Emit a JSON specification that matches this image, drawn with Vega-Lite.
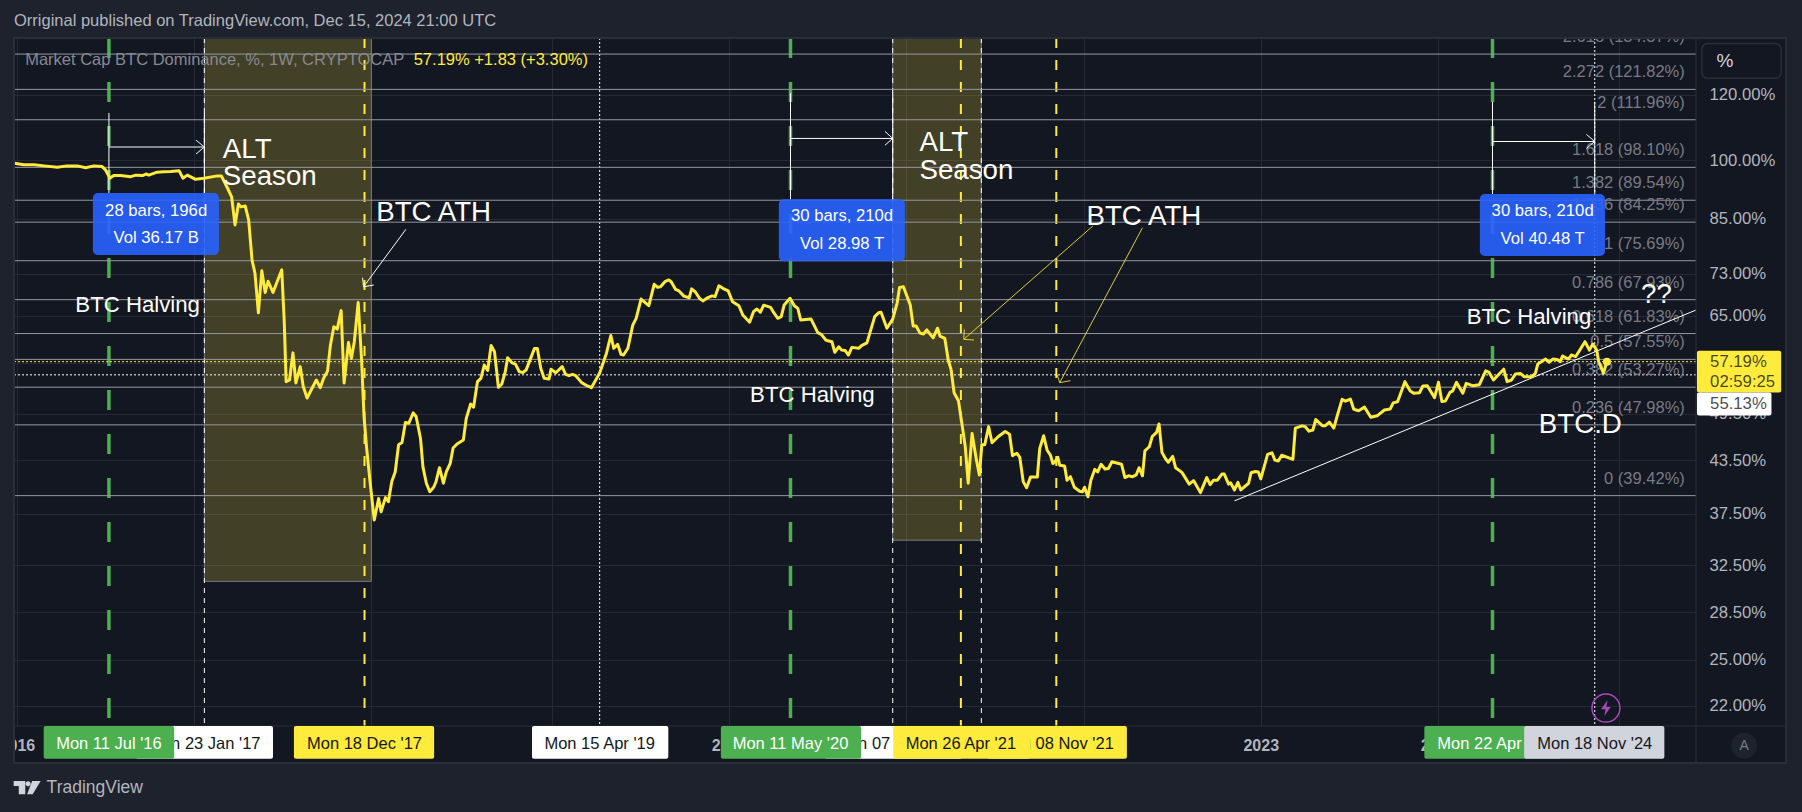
{
  "$schema": "https://vega.github.io/schema/vega-lite/v6.json",
  "width": 1682,
  "height": 688,
  "autosize": "none",
  "padding": {"left": 14, "top": 38, "right": 106, "bottom": 86},
  "background": "#131722",
  "config": {"font": "Liberation Sans", "view": {"stroke": null}},
  "datasets": {
    "dominance": [
      {"date":"2015-12-30","pct":99.2},{"date":"2016-01-18","pct":98.8},{"date":"2016-02-08","pct":98.8},{"date":"2016-02-29","pct":98.5},{"date":"2016-03-27","pct":98.1},{"date":"2016-04-16","pct":98.5},{"date":"2016-05-07","pct":98.5},{"date":"2016-05-24","pct":98},{"date":"2016-06-10","pct":98.5},{"date":"2016-06-27","pct":98.3},{"date":"2016-07-04","pct":97.4},{"date":"2016-07-13","pct":95.2},{"date":"2016-07-21","pct":95.9},{"date":"2016-08-04","pct":95.9},{"date":"2016-08-25","pct":95.6},{"date":"2016-09-04","pct":96},{"date":"2016-09-18","pct":95.9},{"date":"2016-09-25","pct":96.3},{"date":"2016-10-01","pct":96},{"date":"2016-10-18","pct":96.8},{"date":"2016-11-01","pct":96.9},{"date":"2016-11-15","pct":97},{"date":"2016-12-02","pct":97.2},{"date":"2016-12-10","pct":95.2},{"date":"2016-12-19","pct":96},
      {"date":"2017-01-05","pct":94.9},{"date":"2017-01-22","pct":95.2},{"date":"2017-02-19","pct":95.8},{"date":"2017-02-27","pct":95.8},{"date":"2017-03-12","pct":92.5},{"date":"2017-03-20","pct":90.4},{"date":"2017-03-27","pct":83.6},{"date":"2017-04-03","pct":88.6},{"date":"2017-04-08","pct":87.9},{"date":"2017-04-17","pct":88.1},{"date":"2017-04-24","pct":84.8},{"date":"2017-05-01","pct":75.8},{"date":"2017-05-07","pct":73.1},{"date":"2017-05-14","pct":65.5},{"date":"2017-05-21","pct":73.6},{"date":"2017-05-28","pct":69.3},{"date":"2017-06-03","pct":71.5},{"date":"2017-06-13","pct":69.3},{"date":"2017-07-01","pct":73.8},{"date":"2017-07-06","pct":64.2},{"date":"2017-07-10","pct":54.1},{"date":"2017-07-17","pct":54.35},{"date":"2017-07-24","pct":58.6},{"date":"2017-07-30","pct":53.9},{"date":"2017-08-08","pct":56.4},{"date":"2017-08-14","pct":53.4},{"date":"2017-08-22","pct":51.7},{"date":"2017-09-10","pct":54.35},{"date":"2017-09-18","pct":53.2},{"date":"2017-09-25","pct":54.6},{"date":"2017-10-03","pct":55.7},{"date":"2017-10-09","pct":59.9},{"date":"2017-10-16","pct":63},{"date":"2017-10-23","pct":62.6},{"date":"2017-10-31","pct":65.9},{"date":"2017-11-06","pct":53.9},{"date":"2017-11-15","pct":60.3},{"date":"2017-11-21","pct":57.7},{"date":"2017-11-27","pct":60.4},{"date":"2017-12-05","pct":67.4},{"date":"2017-12-12","pct":57.45},{"date":"2017-12-17","pct":49.1},{"date":"2017-12-22","pct":45.2},{"date":"2017-12-29","pct":41.17},
      {"date":"2018-01-07","pct":36.84},{"date":"2018-01-16","pct":39.1},{"date":"2018-01-21","pct":37.7},{"date":"2018-01-30","pct":39.2},{"date":"2018-02-05","pct":38.76},{"date":"2018-02-12","pct":41},{"date":"2018-02-19","pct":42.1},{"date":"2018-02-26","pct":45.4},{"date":"2018-03-05","pct":45.7},{"date":"2018-03-12","pct":48.3},{"date":"2018-03-19","pct":48.2},{"date":"2018-03-28","pct":49.6},{"date":"2018-04-03","pct":49.1},{"date":"2018-04-12","pct":46.2},{"date":"2018-04-17","pct":42.7},{"date":"2018-04-24","pct":40.8},{"date":"2018-05-01","pct":39.85},{"date":"2018-05-09","pct":40.35},{"date":"2018-05-14","pct":41},{"date":"2018-05-21","pct":42.6},{"date":"2018-05-29","pct":40.8},{"date":"2018-06-04","pct":42.1},{"date":"2018-06-12","pct":43.1},{"date":"2018-06-18","pct":45},{"date":"2018-06-26","pct":45.5},{"date":"2018-07-09","pct":46},{"date":"2018-07-15","pct":48.85},{"date":"2018-07-24","pct":50.85},{"date":"2018-07-30","pct":50.4},{"date":"2018-08-07","pct":54.1},{"date":"2018-08-14","pct":54.6},{"date":"2018-08-21","pct":56.65},{"date":"2018-08-28","pct":55.8},{"date":"2018-09-04","pct":59.8},{"date":"2018-09-11","pct":58.8},{"date":"2018-09-19","pct":53.25},{"date":"2018-09-26","pct":53.75},{"date":"2018-10-03","pct":55.6},{"date":"2018-10-08","pct":57.8},{"date":"2018-10-17","pct":57},{"date":"2018-10-24","pct":56.8},{"date":"2018-11-01","pct":55.6},{"date":"2018-11-09","pct":55.5},{"date":"2018-11-15","pct":55.9},{"date":"2018-12-02","pct":59.3},{"date":"2018-12-08","pct":59.3},{"date":"2018-12-15","pct":56.15},{"date":"2018-12-22","pct":54.6},
      {"date":"2019-01-01","pct":54.5},{"date":"2019-01-05","pct":56},{"date":"2019-01-15","pct":55.45},{"date":"2019-01-28","pct":56.4},{"date":"2019-02-04","pct":55.2},{"date":"2019-02-11","pct":55},{"date":"2019-02-18","pct":55.2},{"date":"2019-02-25","pct":55},{"date":"2019-03-09","pct":53.95},{"date":"2019-03-21","pct":53.45},{"date":"2019-03-29","pct":53.2},{"date":"2019-04-15","pct":55.4},{"date":"2019-04-29","pct":58.55},{"date":"2019-05-08","pct":61.5},{"date":"2019-05-14","pct":59.35},{"date":"2019-05-22","pct":60},{"date":"2019-05-29","pct":58.35},{"date":"2019-06-03","pct":58.25},{"date":"2019-06-12","pct":59.35},{"date":"2019-06-22","pct":63.3},{"date":"2019-06-29","pct":64.5},{"date":"2019-07-09","pct":68.05},{"date":"2019-07-25","pct":66.8},{"date":"2019-08-05","pct":70.9},{"date":"2019-08-12","pct":70.3},{"date":"2019-08-18","pct":70.4},{"date":"2019-08-27","pct":71.4},{"date":"2019-09-04","pct":71.75},{"date":"2019-09-09","pct":71.4},{"date":"2019-09-18","pct":69.9},{"date":"2019-09-25","pct":69.6},{"date":"2019-10-05","pct":68.6},{"date":"2019-10-16","pct":68.3},{"date":"2019-10-21","pct":70},{"date":"2019-10-29","pct":69.35},{"date":"2019-11-06","pct":68.2},{"date":"2019-11-13","pct":67.7},{"date":"2019-11-21","pct":68.2},{"date":"2019-12-02","pct":68.65},{"date":"2019-12-08","pct":68.5},{"date":"2019-12-16","pct":70.6},{"date":"2019-12-24","pct":70.1},
      {"date":"2020-01-04","pct":69.6},{"date":"2020-01-13","pct":67.55},{"date":"2020-01-26","pct":66.8},{"date":"2020-02-03","pct":65.1},{"date":"2020-02-17","pct":63.8},{"date":"2020-02-25","pct":65.7},{"date":"2020-03-03","pct":66.2},{"date":"2020-03-10","pct":65.6},{"date":"2020-03-17","pct":66.9},{"date":"2020-03-31","pct":66.5},{"date":"2020-04-06","pct":65.6},{"date":"2020-04-15","pct":64.5},{"date":"2020-04-22","pct":64.8},{"date":"2020-04-28","pct":66.95},{"date":"2020-05-10","pct":68.2},{"date":"2020-05-19","pct":66.8},{"date":"2020-05-26","pct":66.3},{"date":"2020-06-01","pct":64.2},{"date":"2020-06-22","pct":64.4},{"date":"2020-07-06","pct":62},{"date":"2020-07-13","pct":61.7},{"date":"2020-07-23","pct":60.7},{"date":"2020-08-04","pct":60.45},{"date":"2020-08-10","pct":58.7},{"date":"2020-08-18","pct":59.6},{"date":"2020-08-24","pct":59.05},{"date":"2020-08-31","pct":59},{"date":"2020-09-07","pct":58.25},{"date":"2020-09-14","pct":59.5},{"date":"2020-09-28","pct":59.35},{"date":"2020-10-04","pct":59.8},{"date":"2020-10-15","pct":60.25},{"date":"2020-10-31","pct":64.8},{"date":"2020-11-08","pct":65.5},{"date":"2020-11-13","pct":65.6},{"date":"2020-11-25","pct":62.75},{"date":"2020-12-07","pct":64.35},{"date":"2020-12-16","pct":67.3},{"date":"2020-12-21","pct":70.25},{"date":"2020-12-29","pct":70.4},
      {"date":"2021-01-12","pct":66.95},{"date":"2021-01-18","pct":63.15},{"date":"2021-01-24","pct":63.15},{"date":"2021-02-01","pct":61.9},{"date":"2021-02-08","pct":61.75},{"date":"2021-02-15","pct":62.45},{"date":"2021-02-28","pct":61.1},{"date":"2021-03-09","pct":62.75},{"date":"2021-03-14","pct":61.4},{"date":"2021-03-24","pct":61},{"date":"2021-03-31","pct":57.45},{"date":"2021-04-06","pct":55.9},{"date":"2021-04-12","pct":52.45},{"date":"2021-04-21","pct":51.3},{"date":"2021-04-29","pct":47.75},{"date":"2021-05-05","pct":45.15},{"date":"2021-05-11","pct":40.8},{"date":"2021-05-19","pct":46.85},{"date":"2021-05-28","pct":43.5},{"date":"2021-06-03","pct":41.75},{"date":"2021-06-08","pct":45.4},{"date":"2021-06-14","pct":45.4},{"date":"2021-06-22","pct":47.75},{"date":"2021-06-29","pct":45.65},{"date":"2021-07-12","pct":46.45},{"date":"2021-07-26","pct":47.1},{"date":"2021-08-04","pct":46.75},{"date":"2021-08-10","pct":44.05},{"date":"2021-08-19","pct":44.35},{"date":"2021-08-25","pct":43.85},{"date":"2021-09-01","pct":41},{"date":"2021-09-08","pct":40.3},{"date":"2021-09-16","pct":41.5},{"date":"2021-09-30","pct":41.5},{"date":"2021-10-05","pct":44.95},{"date":"2021-10-13","pct":46.55},{"date":"2021-10-20","pct":44.75},{"date":"2021-10-27","pct":44.1},{"date":"2021-11-01","pct":43.1},{"date":"2021-11-05","pct":43.3},{"date":"2021-11-11","pct":43.85},{"date":"2021-11-15","pct":42.9},{"date":"2021-11-25","pct":42.8},{"date":"2021-11-30","pct":41.15},{"date":"2021-12-07","pct":41.55},{"date":"2021-12-15","pct":40.35},{"date":"2021-12-26","pct":39.9},
      {"date":"2022-01-01","pct":39.85},{"date":"2022-01-05","pct":40.35},{"date":"2022-01-12","pct":39.3},{"date":"2022-01-18","pct":41.15},{"date":"2022-01-26","pct":42.4},{"date":"2022-02-01","pct":42.1},{"date":"2022-02-08","pct":43},{"date":"2022-02-16","pct":42.45},{"date":"2022-02-23","pct":42.5},{"date":"2022-03-02","pct":43.3},{"date":"2022-03-22","pct":43},{"date":"2022-03-29","pct":41.45},{"date":"2022-04-05","pct":41.65},{"date":"2022-04-14","pct":41.55},{"date":"2022-04-21","pct":41.75},{"date":"2022-04-27","pct":42.6},{"date":"2022-05-04","pct":41.65},{"date":"2022-05-09","pct":44.65},{"date":"2022-05-18","pct":45.15},{"date":"2022-05-24","pct":46.45},{"date":"2022-06-02","pct":47},{"date":"2022-06-07","pct":48.1},{"date":"2022-06-13","pct":44.45},{"date":"2022-06-20","pct":43.7},{"date":"2022-06-26","pct":43.25},{"date":"2022-07-05","pct":43.95},{"date":"2022-07-11","pct":42.6},{"date":"2022-07-24","pct":42.05},{"date":"2022-08-08","pct":40.7},{"date":"2022-08-17","pct":41.1},{"date":"2022-08-31","pct":39.75},{"date":"2022-09-13","pct":41.45},{"date":"2022-09-20","pct":40.65},{"date":"2022-09-27","pct":41.15},{"date":"2022-10-05","pct":41.15},{"date":"2022-10-14","pct":41.85},{"date":"2022-10-19","pct":41.85},{"date":"2022-10-28","pct":40.7},{"date":"2022-11-01","pct":40.85},{"date":"2022-11-09","pct":40.05},{"date":"2022-11-16","pct":40.9},{"date":"2022-11-22","pct":40.05},{"date":"2022-12-08","pct":40.8},{"date":"2022-12-13","pct":42},{"date":"2022-12-22","pct":42.15},{"date":"2022-12-28","pct":42.1},
      {"date":"2023-01-02","pct":41.3},{"date":"2023-01-16","pct":44.2},{"date":"2023-01-25","pct":44.4},{"date":"2023-01-31","pct":43.5},{"date":"2023-02-07","pct":43.4},{"date":"2023-02-14","pct":44.1},{"date":"2023-03-09","pct":43.6},{"date":"2023-03-14","pct":47.55},{"date":"2023-03-28","pct":47.85},{"date":"2023-04-03","pct":47.75},{"date":"2023-04-11","pct":47.15},{"date":"2023-04-19","pct":47.3},{"date":"2023-04-25","pct":48.7},{"date":"2023-05-09","pct":47.85},{"date":"2023-05-14","pct":47.85},{"date":"2023-05-23","pct":48.35},{"date":"2023-06-01","pct":47.55},{"date":"2023-06-08","pct":49.2},{"date":"2023-06-18","pct":51.5},{"date":"2023-06-25","pct":51.25},{"date":"2023-07-05","pct":51.55},{"date":"2023-07-12","pct":50.1},{"date":"2023-07-22","pct":49.9},{"date":"2023-08-03","pct":50.4},{"date":"2023-08-16","pct":49},{"date":"2023-08-29","pct":49.2},{"date":"2023-09-13","pct":50},{"date":"2023-09-25","pct":50.15},{"date":"2023-10-01","pct":51},{"date":"2023-10-10","pct":51.15},{"date":"2023-10-25","pct":54.1},{"date":"2023-11-05","pct":52.7},{"date":"2023-11-12","pct":52.4},{"date":"2023-11-24","pct":52.45},{"date":"2023-12-01","pct":53.45},{"date":"2023-12-10","pct":53.5},{"date":"2023-12-25","pct":51.75},
      {"date":"2024-01-02","pct":54},{"date":"2024-01-09","pct":51.2},{"date":"2024-01-16","pct":51.25},{"date":"2024-01-26","pct":52.55},{"date":"2024-01-31","pct":52.7},{"date":"2024-02-08","pct":54},{"date":"2024-02-21","pct":52.4},{"date":"2024-02-28","pct":53.85},{"date":"2024-03-12","pct":53.5},{"date":"2024-03-26","pct":53.65},{"date":"2024-04-08","pct":55.75},{"date":"2024-04-15","pct":55.5},{"date":"2024-04-24","pct":54.35},{"date":"2024-05-15","pct":56},{"date":"2024-05-22","pct":54.1},{"date":"2024-05-31","pct":54.35},{"date":"2024-06-08","pct":55.25},{"date":"2024-06-18","pct":55.35},{"date":"2024-06-26","pct":54.85},{"date":"2024-07-12","pct":54.85},{"date":"2024-07-19","pct":55.35},{"date":"2024-07-24","pct":56.8},{"date":"2024-08-09","pct":57.6},{"date":"2024-08-16","pct":57.1},{"date":"2024-08-24","pct":57.6},{"date":"2024-09-01","pct":57.55},{"date":"2024-09-08","pct":57.2},{"date":"2024-09-13","pct":58.1},{"date":"2024-09-25","pct":57.6},{"date":"2024-10-01","pct":58.25},{"date":"2024-10-10","pct":58},{"date":"2024-10-29","pct":60.45},{"date":"2024-11-07","pct":59.05},{"date":"2024-11-14","pct":60.05},{"date":"2024-11-22","pct":59.05},{"date":"2024-11-26","pct":57.2},{"date":"2024-12-06","pct":55.4},{"date":"2024-12-13","pct":57.19}
    ],
    "fibs": [
      {"date":"2025-05-22","pct":134.37,"label":"2.618 (134.37%)"},{"date":"2025-05-22","pct":121.82,"label":"2.272 (121.82%)"},{"date":"2025-05-22","pct":111.96,"label":"2 (111.96%)"},{"date":"2025-05-22","pct":98.10,"label":"1.618 (98.10%)"},{"date":"2025-05-22","pct":89.54,"label":"1.382 (89.54%)"},{"date":"2025-05-22","pct":84.25,"label":"1.236 (84.25%)"},{"date":"2025-05-22","pct":75.69,"label":"1 (75.69%)"},{"date":"2025-05-22","pct":67.93,"label":"0.786 (67.93%)"},{"date":"2025-05-22","pct":61.83,"label":"0.618 (61.83%)"},{"date":"2025-05-22","pct":57.55,"label":"0.5 (57.55%)"},{"date":"2025-05-22","pct":53.27,"label":"0.382 (53.27%)"},{"date":"2025-05-22","pct":47.98,"label":"0.236 (47.98%)"},{"date":"2025-05-22","pct":39.42,"label":"0 (39.42%)"}
    ],
    "events": [
      {"date":"2016-07-11","kind":"halving"},{"date":"2020-05-11","kind":"halving"},{"date":"2024-04-22","kind":"halving"},
      {"date":"2017-12-18","kind":"ath"},{"date":"2021-04-26","kind":"ath"},{"date":"2021-11-08","kind":"ath"},
      {"date":"2017-01-23","kind":"alt"},{"date":"2020-12-07","kind":"alt"},{"date":"2021-06-07","kind":"alt"},
      {"date":"2019-04-15","kind":"cursor"},{"date":"2024-11-18","kind":"cursor"}
    ],
    "seasons": [
      {"date":"2017-01-23","date2":"2018-01-01","pct":140.5,"pct2":31.07},
      {"date":"2020-12-07","date2":"2021-06-07","pct":140.5,"pct2":34.83}
    ],
    "measures": [
      {"date":"2016-06-08","date2":"2017-02-22","pct":91.33,"pct2":76.9},
      {"date":"2020-04-17","date2":"2021-01-01","pct":89.8,"pct2":75.6},
      {"date":"2024-03-27","date2":"2024-12-09","pct":91.1,"pct2":76.7}
    ],
    "measureText": [
      {"date":"2016-10-16","pct":86.95,"label":"28 bars, 196d"},{"date":"2016-10-16","pct":80.7,"label":"Vol 36.17 B"},
      {"date":"2020-08-25","pct":85.6,"label":"30 bars, 210d"},{"date":"2020-08-25","pct":79.35,"label":"Vol 28.98 T"},
      {"date":"2024-08-03","pct":86.8,"label":"30 bars, 210d"},{"date":"2024-08-03","pct":80.45,"label":"Vol 40.48 T"}
    ],
    "guides": [
      {"group":"m1a","seq":1,"date":"2016-07-11","pct":114.1},{"group":"m1a","seq":2,"date":"2016-07-11","pct":91.3},
      {"group":"m1b","seq":1,"date":"2017-01-23","pct":114.1},{"group":"m1b","seq":2,"date":"2017-01-23","pct":91.3},
      {"group":"m1c","seq":1,"date":"2016-07-11","pct":103.8},{"group":"m1c","seq":2,"date":"2017-01-23","pct":103.8},
      {"group":"m1d","seq":1,"date":"2017-01-06","pct":105.8},{"group":"m1d","seq":2,"date":"2017-01-23","pct":103.8},{"group":"m1d","seq":3,"date":"2017-01-06","pct":101.8},
      {"group":"m2a","seq":1,"date":"2020-05-11","pct":120.6},{"group":"m2a","seq":2,"date":"2020-05-11","pct":89.8},
      {"group":"m2b","seq":1,"date":"2020-12-07","pct":120.6},{"group":"m2b","seq":2,"date":"2020-12-07","pct":89.8},
      {"group":"m2c","seq":1,"date":"2020-05-11","pct":106.3},{"group":"m2c","seq":2,"date":"2020-12-07","pct":106.3},
      {"group":"m2d","seq":1,"date":"2020-11-21","pct":108.4},{"group":"m2d","seq":2,"date":"2020-12-07","pct":106.3},{"group":"m2d","seq":3,"date":"2020-11-21","pct":104.3},
      {"group":"m3a","seq":1,"date":"2024-04-22","pct":117.7},{"group":"m3a","seq":2,"date":"2024-04-22","pct":91.1},
      {"group":"m3b","seq":1,"date":"2024-11-18","pct":117.7},{"group":"m3b","seq":2,"date":"2024-11-18","pct":91.1},
      {"group":"m3c","seq":1,"date":"2024-04-22","pct":105.4},{"group":"m3c","seq":2,"date":"2024-11-18","pct":105.4},
      {"group":"m3d","seq":1,"date":"2024-11-01","pct":107.5},{"group":"m3d","seq":2,"date":"2024-11-18","pct":105.4},{"group":"m3d","seq":3,"date":"2024-11-01","pct":103.4},
      {"group":"trend","seq":1,"date":"2022-11-09","pct":38.85},{"group":"trend","seq":2,"date":"2025-06-14","pct":66.0},
      {"group":"ath1","seq":1,"date":"2018-03-13","pct":82.6},{"group":"ath1","seq":2,"date":"2017-12-16","pct":70.4},
      {"group":"ath1h","seq":1,"date":"2017-12-14","pct":72.2},{"group":"ath1h","seq":2,"date":"2017-12-16","pct":70.4},{"group":"ath1h","seq":3,"date":"2018-01-06","pct":70.75}
    ],
    "yellowGuides": [
      {"group":"ath2","seq":1,"date":"2022-01-22","pct":83.35},{"group":"ath2","seq":2,"date":"2021-05-02","pct":60.85},
      {"group":"ath2h","seq":1,"date":"2021-05-03","pct":62.55},{"group":"ath2h","seq":2,"date":"2021-05-02","pct":60.85},{"group":"ath2h","seq":3,"date":"2021-05-23","pct":60.73},
      {"group":"ath3","seq":1,"date":"2022-05-04","pct":82.95},{"group":"ath3","seq":2,"date":"2021-11-15","pct":53.95},
      {"group":"ath3h","seq":1,"date":"2021-11-10","pct":55.1},{"group":"ath3h","seq":2,"date":"2021-11-15","pct":53.95},{"group":"ath3h","seq":3,"date":"2021-12-07","pct":54.25}
    ],
    "notes": [
      {"date":"2017-03-02","pct":102.9,"label":"ALT","kind":"big"},{"date":"2017-03-02","pct":95.4,"label":"Season","kind":"big"},
      {"date":"2021-01-31","pct":104.85,"label":"ALT","kind":"big"},{"date":"2021-01-31","pct":97.2,"label":"Season","kind":"big"},
      {"date":"2018-01-11","pct":86.3,"label":"BTC ATH","kind":"big"},{"date":"2022-01-09","pct":85.55,"label":"BTC ATH","kind":"big"},
      {"date":"2025-02-21","pct":68.8,"label":"??","kind":"big"},{"date":"2024-07-26","pct":47.95,"label":"BTC.D","kind":"big"},
      {"date":"2016-05-03","pct":66.9,"label":"BTC Halving","kind":"small"},{"date":"2020-02-18","pct":52.13,"label":"BTC Halving","kind":"small"},{"date":"2024-02-29","pct":64.7,"label":"BTC Halving","kind":"small"}
    ],
    "headerLine": [{"date":"2015-12-29","pct":147.1,"label":"Orriginal published on TradingView.com, Dec 15, 2024 21:00 UTC"}],
    "legendLine": [
      {"date":"2016-01-21","pct":132.1,"label":"Market Cap BTC Dominance, %, 1W, CRYPTOCAP","kind":"name"},
      {"date":"2018-03-29","pct":132.1,"label":"57.19%  +1.83 (+3.30%)","kind":"value"}
    ],
    "margins": [
      {"date":"2015-11-01","date2":"2026-03-01","pct":170,"pct2":140.5},
      {"date":"2015-11-01","date2":"2026-03-01","pct":18.76,"pct2":15},
      {"date":"2015-11-01","date2":"2015-12-29","pct":170,"pct2":15},
      {"date":"2025-12-16","date2":"2026-03-01","pct":170,"pct2":15}
    ],
    "frame": [{"date":"2015-12-29","date2":"2025-12-16","pct":140.5,"pct2":18.76}],
    "frameV": [{"date":"2025-06-14","pct":140.5,"pct2":18.76}],
    "frameH": [{"date":"2015-12-29","date2":"2025-12-16","pct":20.79}],
    "priceTags": [
      {"date":"2025-06-16","date2":"2025-12-06","pct":58.96,"pct2":52.48,"kind":"last"},
      {"date":"2025-06-16","date2":"2025-11-16","pct":52.48,"pct2":49.23,"kind":"prev"}
    ],
    "priceText": [
      {"date":"2025-07-13","pct":57.09,"label":"57.19%"},{"date":"2025-07-13","pct":54.09,"label":"02:59:25"},{"date":"2025-07-13","pct":50.81,"label":"55.13%"}
    ],
    "unitButton": [{"date":"2025-06-26","date2":"2025-12-06","pct":138.4,"pct2":125.6}],
    "unitText": [{"date":"2025-07-26","pct":131.9,"label":"%"}],
    "autoButton": [{"date":"2025-09-21","pct":19.68,"label":"A"}],
    "flash": [{"date":"2024-12-11","pct":21.85}],
    "lastBar": [{"date":"2024-12-13","pct":57.19}],
    "brand": [{"date":"2016-03-05","pct":17.52,"label":"TradingView"}],
    "logo": [{"date":"2016-01-25","pct":17.52}],
    "dateTags": [
      {"date":"2016-09-04","date2":"2017-06-13","mid":"2017-01-23","pct":20.79,"pct2":18.98,"ymid":19.77,"label":"Mon 23 Jan '17","kind":"alt","tier":1},
      {"date":"2018-11-27","date2":"2019-09-03","mid":"2019-04-15","pct":20.79,"pct2":18.98,"ymid":19.77,"label":"Mon 15 Apr '19","kind":"alt","tier":1},
      {"date":"2020-07-21","date2":"2021-04-28","mid":"2020-12-07","pct":20.79,"pct2":18.98,"ymid":19.77,"label":"Mon 07 Dec '20","kind":"alt","tier":1},
      {"date":"2021-06-19","date2":"2022-04-02","mid":"2021-11-08","pct":20.79,"pct2":18.98,"ymid":19.77,"label":"Mon 08 Nov '21","kind":"ath","tier":1},
      {"date":"2016-02-28","date2":"2016-11-22","mid":"2016-07-11","pct":20.79,"pct2":18.98,"ymid":19.77,"label":"Mon 11 Jul '16","kind":"halving","tier":2},
      {"date":"2017-07-26","date2":"2018-05-10","mid":"2017-12-18","pct":20.79,"pct2":18.98,"ymid":19.77,"label":"Mon 18 Dec '17","kind":"ath","tier":2},
      {"date":"2019-12-20","date2":"2020-10-03","mid":"2020-05-11","pct":20.79,"pct2":18.98,"ymid":19.77,"label":"Mon 11 May '20","kind":"halving","tier":2},
      {"date":"2020-12-08","date2":"2021-09-15","mid":"2021-04-26","pct":20.79,"pct2":18.98,"ymid":19.77,"label":"Mon 26 Apr '21","kind":"ath","tier":2},
      {"date":"2023-12-04","date2":"2024-09-10","mid":"2024-04-22","pct":20.79,"pct2":18.98,"ymid":19.77,"label":"Mon 22 Apr '24","kind":"halving","tier":2},
      {"date":"2024-06-26","date2":"2025-04-10","mid":"2024-11-18","pct":20.79,"pct2":18.98,"ymid":19.77,"label":"Mon 18 Nov '24","kind":"now","tier":3}
    ]
  },
  "encoding": {
    "x": {
      "field": "date", "type": "temporal", "title": null,
      "scale": {"type": "utc", "domain": ["2015-12-29", "2025-06-14"], "nice": false},
      "axis": {"values": [1451865600000, 1483315200000, 1514764800000, 1546819200000, 1578268800000, 1609718400000, 1641168000000, 1672617600000, 1704067200000, 1736121600000], "format": "%Y", "grid": true, "gridColor": "#252934", "domain": false, "ticks": false, "labelColor": "#b2b5be", "labelFontSize": 16, "labelFontWeight": "bold", "labelPadding": 11, "labelFlush": false, "labelOverlap": false}
    },
    "y": {
      "field": "pct", "type": "quantitative", "title": null,
      "scale": {"type": "log", "domain": [20.79, 140.5], "nice": false},
      "axis": {"orient": "right", "values": [22, 25, 28.5, 32.5, 37.5, 43.5, 49.5, 57, 65, 73, 85, 100, 120], "labelExpr": "format(datum.value, '.2f') + '%'", "grid": true, "gridColor": "#252934", "domain": false, "ticks": false, "labelColor": "#b2b5be", "labelFontSize": 16.7, "labelPadding": 13, "labelFlush": false, "labelOverlap": false}
    }
  },
  "layer": [
    {"data": {"name": "seasons"}, "mark": {"type": "rect", "fill": "#ffeb3b", "fillOpacity": 0.2, "stroke": "#787b86", "strokeWidth": 1}, "encoding": {"x2": {"field": "date2"}, "y2": {"field": "pct2"}}},
    {"data": {"name": "events"}, "transform": [{"filter": "datum.kind === 'halving'"}], "mark": {"type": "rule", "color": "#4caf50", "strokeWidth": 3.5, "strokeDash": [20, 24]}, "encoding": {"y": null}},
    {"data": {"name": "events"}, "transform": [{"filter": "datum.kind === 'alt'"}], "mark": {"type": "rule", "color": "#ffffff", "strokeWidth": 1, "strokeDash": [5, 5]}, "encoding": {"y": null}},
    {"data": {"name": "events"}, "transform": [{"filter": "datum.kind === 'cursor'"}], "mark": {"type": "rule", "color": "#ffffff", "strokeWidth": 1, "strokeDash": [2, 2]}, "encoding": {"y": null}},
    {"data": {"name": "events"}, "transform": [{"filter": "datum.kind === 'ath'"}], "mark": {"type": "rule", "color": "#ffeb3b", "strokeWidth": 2, "strokeDash": [10, 12]}, "encoding": {"y": null}},
    {"data": {"name": "fibs"}, "mark": {"type": "rule", "color": "#9598a1", "strokeWidth": 1}, "encoding": {"x": null}},
    {"data": {"values": [{"pct": 57.19}]}, "mark": {"type": "rule", "color": "#ffeb3b", "strokeWidth": 1, "strokeDash": [2, 2]}, "encoding": {"x": null}},
    {"data": {"values": [{"pct": 55.13}]}, "mark": {"type": "rule", "color": "#ffffff", "strokeWidth": 1, "strokeDash": [2, 2]}, "encoding": {"x": null}},
    {"data": {"name": "fibs"}, "mark": {"type": "text", "align": "right", "baseline": "middle", "dy": -17, "fontSize": 16.5, "color": "#787b86"}, "encoding": {"text": {"field": "label"}}},
    {"data": {"name": "legendLine"}, "transform": [{"filter": "datum.kind === 'name'"}], "mark": {"type": "text", "align": "left", "baseline": "middle", "fontSize": 16.5, "color": "#868993"}, "encoding": {"text": {"field": "label"}}},
    {"data": {"name": "legendLine"}, "transform": [{"filter": "datum.kind === 'value'"}], "mark": {"type": "text", "align": "left", "baseline": "middle", "fontSize": 16.5, "color": "#ffeb3b"}, "encoding": {"text": {"field": "label"}}},
    {"data": {"name": "guides"}, "mark": {"type": "line", "color": "#ffffff", "strokeWidth": 1}, "encoding": {"detail": {"field": "group"}, "order": {"field": "seq"}}},
    {"data": {"name": "yellowGuides"}, "mark": {"type": "line", "color": "#ffeb3b", "strokeWidth": 1, "opacity": 0.85}, "encoding": {"detail": {"field": "group"}, "order": {"field": "seq"}}},
    {"data": {"name": "dominance"}, "mark": {"type": "line", "color": "#ffeb3b", "strokeWidth": 3, "strokeJoin": "round"}, "encoding": {}},
    {"data": {"name": "lastBar"}, "mark": {"type": "point", "filled": true, "color": "#ffeb3b", "size": 64, "opacity": 1}, "encoding": {}},
    {"data": {"name": "measures"}, "mark": {"type": "rect", "fill": "#2962ff", "fillOpacity": 0.9, "cornerRadius": 5}, "encoding": {"x2": {"field": "date2"}, "y2": {"field": "pct2"}}},
    {"data": {"name": "measureText"}, "mark": {"type": "text", "align": "center", "baseline": "middle", "fontSize": 16.7, "color": "#ffffff"}, "encoding": {"text": {"field": "label"}}},
    {"data": {"name": "notes"}, "transform": [{"filter": "datum.kind === 'big'"}], "mark": {"type": "text", "align": "left", "baseline": "middle", "fontSize": 27.7, "color": "#ffffff"}, "encoding": {"text": {"field": "label"}}},
    {"data": {"name": "notes"}, "transform": [{"filter": "datum.kind === 'small'"}], "mark": {"type": "text", "align": "left", "baseline": "middle", "fontSize": 22.2, "color": "#ffffff"}, "encoding": {"text": {"field": "label"}}},
    {"data": {"name": "flash"}, "mark": {"type": "point", "filled": false, "color": "#ab47bc", "strokeWidth": 1.5, "size": 784, "opacity": 1}, "encoding": {}},
    {"data": {"name": "flash"}, "mark": {"type": "point", "filled": true, "color": "#ab47bc", "size": 256, "opacity": 1, "shape": "M0.2 -1L-0.6 0.15L-0.05 0.15L-0.2 1L0.6 -0.15L0.05 -0.15Z"}, "encoding": {}},
    {"data": {"name": "margins"}, "mark": {"type": "rect", "fill": "#1e222d"}, "encoding": {"x2": {"field": "date2"}, "y2": {"field": "pct2"}}},
    {"data": {"name": "frame"}, "mark": {"type": "rect", "fillOpacity": 0, "stroke": "#2a2e39", "strokeWidth": 2}, "encoding": {"x2": {"field": "date2"}, "y2": {"field": "pct2"}}},
    {"data": {"name": "frameV"}, "mark": {"type": "rule", "color": "#2a2e39", "strokeWidth": 1}, "encoding": {"y2": {"field": "pct2"}}},
    {"data": {"name": "frameH"}, "mark": {"type": "rule", "color": "#2a2e39", "strokeWidth": 1}, "encoding": {"x2": {"field": "date2"}}},
    {"data": {"name": "headerLine"}, "mark": {"type": "text", "align": "left", "baseline": "middle", "fontSize": 16.5, "color": "#b2b5be"}, "encoding": {"text": {"field": "label"}}},
    {"data": {"name": "unitButton"}, "mark": {"type": "rect", "fill": "#131722", "stroke": "#2a2e39", "strokeWidth": 1.5, "cornerRadius": 6}, "encoding": {"x2": {"field": "date2"}, "y2": {"field": "pct2"}}},
    {"data": {"name": "unitText"}, "mark": {"type": "text", "align": "left", "baseline": "middle", "fontSize": 19, "color": "#d1d4dc"}, "encoding": {"text": {"field": "label"}}},
    {"data": {"name": "priceTags"}, "mark": {"type": "rect", "cornerRadius": 2}, "encoding": {"x2": {"field": "date2"}, "y2": {"field": "pct2"}, "color": {"field": "kind", "legend": null, "scale": {"domain": ["last", "prev", "halving", "alt", "ath", "now"], "range": ["#ffeb3b", "#ffffff", "#4caf50", "#ffffff", "#ffeb3b", "#d1d4dc"]}}}},
    {"data": {"name": "priceText"}, "mark": {"type": "text", "align": "left", "baseline": "middle", "fontSize": 16.7, "color": "#131722", "fillOpacity": 0.8}, "encoding": {"text": {"field": "label"}}},
    {"data": {"name": "autoButton"}, "mark": {"type": "point", "filled": true, "color": "#1e222d", "size": 676, "opacity": 1}, "encoding": {}},
    {"data": {"name": "autoButton"}, "mark": {"type": "text", "align": "center", "baseline": "middle", "fontSize": 14, "color": "#787b86"}, "encoding": {"text": {"field": "label"}}},
    {"data": {"name": "dateTags"}, "transform": [{"filter": "datum.tier === 1"}], "mark": {"type": "rect", "cornerRadius": 2}, "encoding": {"x2": {"field": "date2"}, "y2": {"field": "pct2"}, "color": {"field": "kind", "legend": null, "scale": {"domain": ["last", "prev", "halving", "alt", "ath", "now"], "range": ["#ffeb3b", "#ffffff", "#4caf50", "#ffffff", "#ffeb3b", "#d1d4dc"]}}}},
    {"data": {"name": "dateTags"}, "transform": [{"filter": "datum.tier === 1"}], "mark": {"type": "text", "align": "center", "baseline": "middle", "fontSize": 16.5, "color": "#131722"}, "encoding": {"x": {"field": "mid", "type": "temporal", "scale": {"type": "utc", "domain": ["2015-12-29", "2025-06-14"], "nice": false}}, "y": {"field": "ymid", "type": "quantitative", "scale": {"type": "log", "domain": [20.79, 140.5], "nice": false}}, "text": {"field": "label"}}},
    {"data": {"name": "dateTags"}, "transform": [{"filter": "datum.tier === 2"}], "mark": {"type": "rect", "cornerRadius": 2}, "encoding": {"x2": {"field": "date2"}, "y2": {"field": "pct2"}, "color": {"field": "kind", "legend": null, "scale": {"domain": ["last", "prev", "halving", "alt", "ath", "now"], "range": ["#ffeb3b", "#ffffff", "#4caf50", "#ffffff", "#ffeb3b", "#d1d4dc"]}}}},
    {"data": {"name": "dateTags"}, "transform": [{"filter": "datum.tier === 2"}], "mark": {"type": "text", "align": "center", "baseline": "middle", "fontSize": 16.5}, "encoding": {"x": {"field": "mid", "type": "temporal", "scale": {"type": "utc", "domain": ["2015-12-29", "2025-06-14"], "nice": false}}, "y": {"field": "ymid", "type": "quantitative", "scale": {"type": "log", "domain": [20.79, 140.5], "nice": false}}, "text": {"field": "label"}, "color": {"condition": {"test": "datum.kind === 'halving'", "value": "#ffffff"}, "value": "#131722"}}},
    {"data": {"name": "dateTags"}, "transform": [{"filter": "datum.tier === 3"}], "mark": {"type": "rect", "cornerRadius": 2}, "encoding": {"x2": {"field": "date2"}, "y2": {"field": "pct2"}, "color": {"field": "kind", "legend": null, "scale": {"domain": ["last", "prev", "halving", "alt", "ath", "now"], "range": ["#ffeb3b", "#ffffff", "#4caf50", "#ffffff", "#ffeb3b", "#d1d4dc"]}}}},
    {"data": {"name": "dateTags"}, "transform": [{"filter": "datum.tier === 3"}], "mark": {"type": "text", "align": "center", "baseline": "middle", "fontSize": 16.5, "color": "#131722"}, "encoding": {"x": {"field": "mid", "type": "temporal", "scale": {"type": "utc", "domain": ["2015-12-29", "2025-06-14"], "nice": false}}, "y": {"field": "ymid", "type": "quantitative", "scale": {"type": "log", "domain": [20.79, 140.5], "nice": false}}, "text": {"field": "label"}}},
    {"data": {"name": "brand"}, "mark": {"type": "text", "align": "left", "baseline": "middle", "fontSize": 17.5, "color": "#b2b5be"}, "encoding": {"text": {"field": "label"}}},
    {"data": {"name": "logo"}, "mark": {"type": "point", "filled": true, "color": "#d1d4dc", "opacity": 1, "size": 729, "shape": "M-1 -0.49H-0.14V0.5H-0.62V-0.12H-1ZM-0.12 -0.28A0.19 0.19 0 1 1 0.26 -0.28A0.19 0.19 0 1 1 -0.12 -0.28ZM0.37 -0.49H1L0.41 0.5H0Z"}, "encoding": {}}
  ]
}
